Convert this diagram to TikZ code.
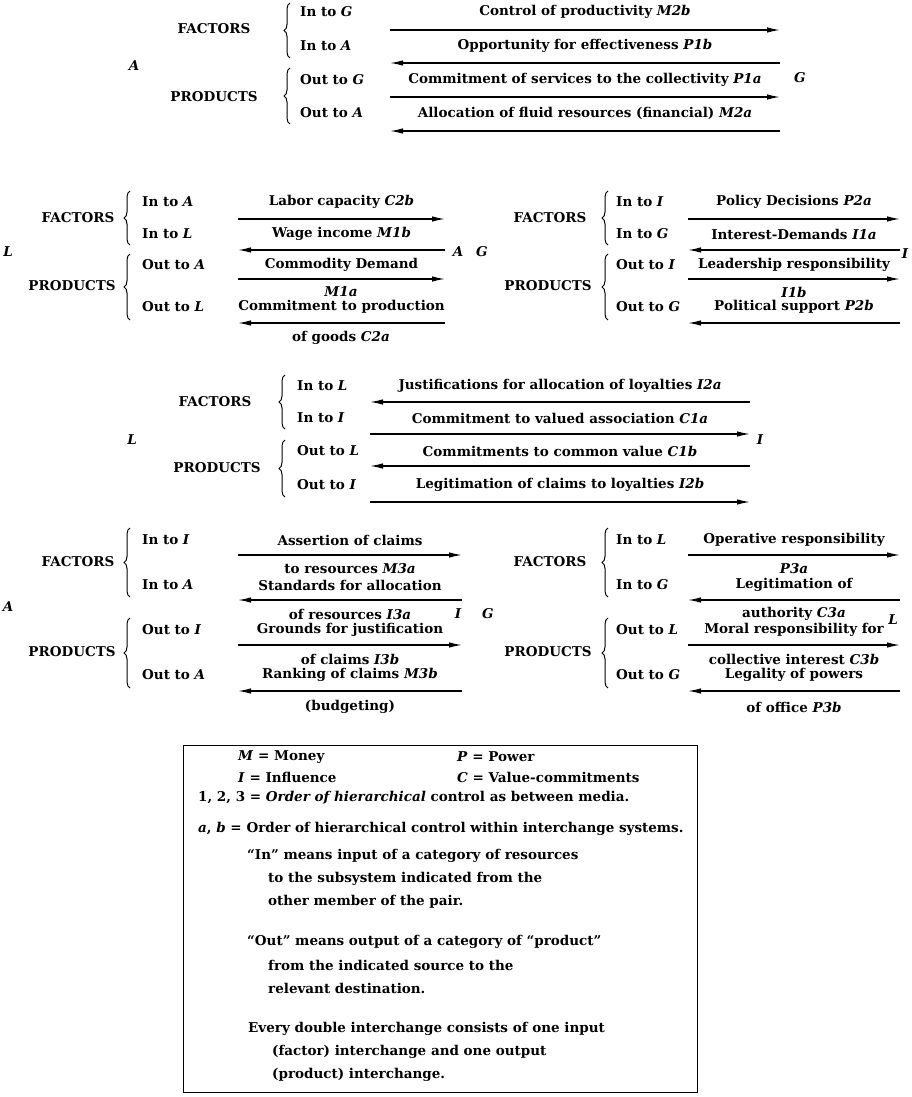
\documentclass[tikz,border=0pt]{standalone}
\usepackage{fontspec}
\setmainfont{DejaVu Serif}
\usetikzlibrary{arrows.meta,decorations.pathreplacing}
\newcommand\lblfont{\fontsize{13.5}{16}\selectfont\bfseries}
\newcommand\frow[8]{%
  \node[sidetxt] (n#1) at (#4,#5) {#7};
  \node[txt] (t#1) at ({(#2+#3)/2},#5) {#8};
  \coordinate (p#1) at (#2,#6);
  \coordinate (q#1) at (#3,#6);
}
\tikzset{
  txt/.style={font=\lblfont, inner sep=0pt},
  sidetxt/.style={txt, anchor=west},
  sys/.style={font=\lblfont\itshape, inner sep=0pt},
  flow/.style={line width=1.3pt, -{Latex[length=13pt,width=5.5pt]}},
  brc/.style={decorate, decoration={brace, amplitude=6pt}, line width=1pt},
  leg/.style={txt, anchor=west},
}
\begin{document}
\begin{tikzpicture}[x=1pt,y=-1pt]
\useasboundingbox (0,0) rectangle (912,1097);

% ---------------- Row 1 : A -- G ----------------
\node[sys] (A1) at (134,66) {A};
\node[sys] (G1) at (800,78) {G};
\node[txt] (F1) at (214,29) {FACTORS};
\node[txt] (P1) at (214,97) {PRODUCTS};
\coordinate (bF1b) at (290,58); \coordinate (bF1t) at (290,3);
\coordinate (bP1b) at (290,124); \coordinate (bP1t) at (290,68);
\draw[brc] (bF1b) -- (bF1t);
\draw[brc] (bP1b) -- (bP1t);
\frow{a1}{390}{780}{300}{12}{30}{In to \textit{G}}{Control of productivity \textit{M2b}}
\frow{a2}{390}{780}{300}{46}{63}{In to \textit{A}}{Opportunity for effectiveness \textit{P1b}}
\frow{a3}{390}{780}{300}{80}{97}{Out to \textit{G}}{Commitment of services to the collectivity \textit{P1a}}
\frow{a4}{390}{780}{300}{113}{131}{Out to \textit{A}}{Allocation of fluid resources (financial) \textit{M2a}}
\draw[flow] (pa1) -- (qa1);
\draw[flow] (qa2) -- (pa2);
\draw[flow] (pa3) -- (qa3);
\draw[flow] (qa4) -- (pa4);

% ---------------- Row 2 left : L -- A ----------------
\node[sys] (L2) at (8,252) {L};
\node[sys] (A2) at (458,252) {A};
\node[txt] (F2) at (78,218) {FACTORS};
\node[txt] (P2) at (72,286) {PRODUCTS};
\coordinate (bF2b) at (130,245); \coordinate (bF2t) at (130,191);
\coordinate (bP2b) at (130,320); \coordinate (bP2t) at (130,254);
\draw[brc] (bF2b) -- (bF2t);
\draw[brc] (bP2b) -- (bP2t);
\frow{b1}{238}{445}{142}{202}{219}{In to \textit{A}}{Labor capacity \textit{C2b}}
\frow{b2}{238}{445}{142}{234}{250}{In to \textit{L}}{Wage income \textit{M1b}}
\frow{b3}{238}{445}{142}{265}{279}{Out to \textit{A}}{Commodity Demand}
\frow{b4}{238}{445}{142}{307}{323}{Out to \textit{L}}{Commitment to production}
\node[txt] (sb3) at (341,292) {\textit{M1a}};
\node[txt] (sb4) at (341,338) {of goods \textit{C2a}};
\draw[flow] (pb1) -- (qb1);
\draw[flow] (qb2) -- (pb2);
\draw[flow] (pb3) -- (qb3);
\draw[flow] (qb4) -- (pb4);

% ---------------- Row 2 right : G -- I ----------------
\node[sys] (G2) at (482,252) {G};
\node[sys] (I2) at (905,254) {I};
\node[txt] (F3) at (550,218) {FACTORS};
\node[txt] (P3) at (548,286) {PRODUCTS};
\coordinate (bF3b) at (608,245); \coordinate (bF3t) at (608,191);
\coordinate (bP3b) at (608,320); \coordinate (bP3t) at (608,254);
\draw[brc] (bF3b) -- (bF3t);
\draw[brc] (bP3b) -- (bP3t);
\frow{c1}{688}{900}{616}{202}{219}{In to \textit{I}}{Policy Decisions \textit{P2a}}
\frow{c2}{688}{900}{616}{234}{250}{In to \textit{G}}{Interest-Demands \textit{I1a}}
\frow{c3}{688}{900}{616}{265}{279}{Out to \textit{I}}{Leadership responsibility}
\frow{c4}{688}{900}{616}{307}{323}{Out to \textit{G}}{Political support \textit{P2b}}
\node[txt] (sc3) at (794,292) {\textit{I1b}};
\draw[flow] (pc1) -- (qc1);
\draw[flow] (qc2) -- (pc2);
\draw[flow] (pc3) -- (qc3);
\draw[flow] (qc4) -- (pc4);

% ---------------- Row 3 : L -- I ----------------
\node[sys] (L3) at (132,440) {L};
\node[sys] (I3) at (760,440) {I};
\node[txt] (F4) at (215,402) {FACTORS};
\node[txt] (P4) at (217,468) {PRODUCTS};
\coordinate (bF4b) at (285,429); \coordinate (bF4t) at (285,375);
\coordinate (bP4b) at (285,497); \coordinate (bP4t) at (285,440);
\draw[brc] (bF4b) -- (bF4t);
\draw[brc] (bP4b) -- (bP4t);
\frow{d1}{370}{750}{297}{386}{402}{In to \textit{L}}{Justifications for allocation of loyalties \textit{I2a}}
\frow{d2}{370}{750}{297}{418}{434}{In to \textit{I}}{Commitment to valued association \textit{C1a}}
\frow{d3}{370}{750}{297}{451}{466}{Out to \textit{L}}{Commitments to common value \textit{C1b}}
\frow{d4}{370}{750}{297}{485}{502}{Out to \textit{I}}{Legitimation of claims to loyalties \textit{I2b}}
\draw[flow] (qd1) -- (pd1);
\draw[flow] (pd2) -- (qd2);
\draw[flow] (qd3) -- (pd3);
\draw[flow] (pd4) -- (qd4);

% ---------------- Row 4 left : A -- I ----------------
\node[sys] (A5) at (8,607) {A};
\node[sys] (I5) at (458,614) {I};
\node[txt] (F5) at (78,562) {FACTORS};
\node[txt] (P5) at (72,652) {PRODUCTS};
\coordinate (bF5b) at (130,597); \coordinate (bF5t) at (130,528);
\coordinate (bP5b) at (130,688); \coordinate (bP5t) at (130,618);
\draw[brc] (bF5b) -- (bF5t);
\draw[brc] (bP5b) -- (bP5t);
\frow{e1}{238}{462}{142}{540}{555}{In to \textit{I}}{Assertion of claims}
\frow{e2}{238}{462}{142}{585}{600}{In to \textit{A}}{Standards for allocation}
\frow{e3}{238}{462}{142}{630}{645}{Out to \textit{I}}{Grounds for justification}
\frow{e4}{238}{462}{142}{675}{691}{Out to \textit{A}}{Ranking of claims \textit{M3b}}
\node[txt] (se1) at (350,569) {to resources \textit{M3a}};
\node[txt] (se2) at (350,614) {of resources \textit{I3a}};
\node[txt] (se3) at (350,659) {of claims \textit{I3b}};
\node[txt] (se4) at (350,707) {(budgeting)};
\draw[flow] (pe1) -- (qe1);
\draw[flow] (qe2) -- (pe2);
\draw[flow] (pe3) -- (qe3);
\draw[flow] (qe4) -- (pe4);

% ---------------- Row 4 right : G -- L ----------------
\node[sys] (G6) at (488,614) {G};
\node[sys] (L6) at (893,620) {L};
\node[txt] (F6) at (550,562) {FACTORS};
\node[txt] (P6) at (548,652) {PRODUCTS};
\coordinate (bF6b) at (608,597); \coordinate (bF6t) at (608,528);
\coordinate (bP6b) at (608,688); \coordinate (bP6t) at (608,618);
\draw[brc] (bF6b) -- (bF6t);
\draw[brc] (bP6b) -- (bP6t);
\frow{f1}{688}{900}{616}{540}{555}{In to \textit{L}}{Operative responsibility}
\frow{f2}{688}{900}{616}{585}{600}{In to \textit{G}}{Legitimation of}
\frow{f3}{688}{900}{616}{630}{645}{Out to \textit{L}}{Moral responsibility for}
\frow{f4}{688}{900}{616}{675}{691}{Out to \textit{G}}{Legality of powers}
\node[txt] (sf1) at (794,569) {\textit{P3a}};
\node[txt] (sf2) at (794,614) {authority \textit{C3a}};
\node[txt] (sf3) at (794,659) {collective interest \textit{C3b}};
\node[txt] (sf4) at (794,707) {of office \textit{P3b}};
\draw[flow] (pf1) -- (qf1);
\draw[flow] (qf2) -- (pf2);
\draw[flow] (pf3) -- (qf3);
\draw[flow] (qf4) -- (pf4);

% ---------------- Legend ----------------
\node[draw, line width=1.2pt, minimum width=514pt, minimum height=347pt, anchor=north west, inner sep=0pt] (box) at (183,745) {};
\node[leg] (k1) at (238,757) {\textit{M} = Money};
\node[leg] (k2) at (457,757) {\textit{P} = Power};
\node[leg] (k3) at (238,777) {\textit{I} = Influence};
\node[leg] (k4) at (457,777) {\textit{C} = Value-commitments};
\node[leg] (k5) at (198,798) {1, 2, 3 = \textit{Order of hierarchical} control as between media.};
\node[leg] (k6) at (198,829) {\textit{a}, \textit{b} = Order of hierarchical control within interchange systems.};
\node[leg] (k7) at (247,856) {“In” means input of a category of resources};
\node[leg] (k8) at (268,879) {to the subsystem indicated from the};
\node[leg] (k9) at (268,902) {other member of the pair.};
\node[leg] (k10) at (247,942) {“Out” means output of a category of “product”};
\node[leg] (k11) at (268,965) {from the indicated source to the};
\node[leg] (k12) at (268,988) {relevant destination.};
\node[leg] (k13) at (248,1029) {Every double interchange consists of one input};
\node[leg] (k14) at (272,1052) {(factor) interchange and one output};
\node[leg] (k15) at (272,1075) {(product) interchange.};
\end{tikzpicture}
\end{document}
